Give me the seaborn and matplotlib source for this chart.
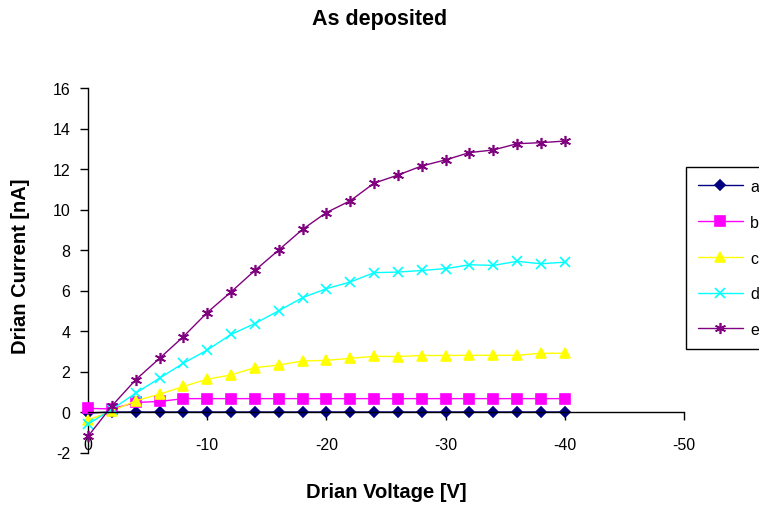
import matplotlib
matplotlib.use("Agg")
import matplotlib.pyplot as plt
import seaborn as sns
import pandas as pd

# ---- data ----
voltage = [0, -2, -4, -6, -8, -10, -12, -14, -16, -18, -20,
           -22, -24, -26, -28, -30, -32, -34, -36, -38, -40]
series_names = ["a", "b", "c", "d", "e"]
curr_a = [-0.05, 0, 0, 0, 0, 0, 0, 0, 0, 0, 0,
          0, 0, 0, 0, 0, 0, 0, 0, 0, 0]
curr_b = [0.18, 0.15, 0.47, 0.52, 0.66, 0.66, 0.66, 0.66, 0.66, 0.66, 0.66,
          0.66, 0.66, 0.66, 0.66, 0.66, 0.66, 0.66, 0.66, 0.66, 0.66]
curr_c = [-0.4, 0.05, 0.55, 0.88, 1.26, 1.62, 1.83, 2.19, 2.32, 2.52, 2.55,
          2.65, 2.75, 2.74, 2.79, 2.79, 2.8, 2.8, 2.8, 2.9, 2.9]
curr_d = [-0.6, 0.13, 0.93, 1.67, 2.41, 3.06, 3.83, 4.37, 5.0, 5.65, 6.09,
          6.42, 6.88, 6.91, 6.99, 7.08, 7.27, 7.24, 7.44, 7.32, 7.40]
curr_e = [-1.2, 0.3, 1.59, 2.65, 3.72, 4.91, 5.93, 6.99, 8.0, 9.02, 9.85,
          10.43, 11.3, 11.7, 12.15, 12.45, 12.81, 12.94, 13.25, 13.3, 13.38]
x_ticks = [0, -10, -20, -30, -40, -50]
y_ticks = [-2, 0, 2, 4, 6, 8, 10, 12, 14, 16]

title = "As deposited"
x_label = "Drian Voltage [V]"
y_label = "Drian Current [nA]"

colors = ["#000080", "#FF00FF", "#FFFF00", "#00FFFF", "#800080"]
markers = ["D", "s", "^", "x", (6, 2, 0)]
msizes = [5.5, 6.5, 7.5, 7, 8]

sns.set_style("white")
plt.rcParams["font.family"] = ["Liberation Sans", "DejaVu Sans"]
plt.rcParams["axes.unicode_minus"] = False
plt.rcParams["text.color"] = "black"
plt.rcParams["axes.labelcolor"] = "black"
plt.rcParams["xtick.color"] = "black"
plt.rcParams["ytick.color"] = "black"

fig = plt.figure(figsize=(7.59, 5.10), dpi=100)
ax = fig.add_axes([88 / 759, 1 - 453.5 / 510, 596 / 759, 364.5 / 510])

all_vals = [curr_a, curr_b, curr_c, curr_d, curr_e]
for name, vals, c, m, ms in zip(series_names, all_vals, colors, markers, msizes):
    df = pd.DataFrame({"V": voltage, "I": vals})
    sns.lineplot(data=df, x="V", y="I", ax=ax, color=c, marker=m,
                 markersize=ms, markeredgecolor=c, markerfacecolor=c,
                 markeredgewidth=1.2, linewidth=1.0, label=name,
                 clip_on=False)

ax.set_xlim(0, -50)
ax.set_ylim(-2, 16)
ax.set_xticks(x_ticks)
ax.set_yticks(y_ticks)
ax.set_xticklabels([str(v) for v in x_ticks])
ax.set_yticklabels([str(v) for v in y_ticks])

for s in ["top", "right"]:
    ax.spines[s].set_visible(False)
ax.spines["bottom"].set_position(("data", 0))
for s in ["left", "bottom"]:
    ax.spines[s].set_color("black")
    ax.spines[s].set_linewidth(1.0)
ax.spines["left"].set_zorder(0)

ax.tick_params(axis="y", direction="out", length=5.8, width=1.0,
               color="black", labelcolor="black", labelsize=11.5, pad=7, left=True)
ax.tick_params(axis="x", direction="out", length=5.8, width=1.0,
               color="black", labelcolor="black", labelsize=11.5, pad=12, bottom=True)

ax.set_xlabel(x_label, fontsize=14.5, fontweight="bold", color="black")
ax.set_ylabel(y_label, fontsize=14.5, fontweight="bold", color="black")
ax.xaxis.label.set_va("center")
ax.yaxis.label.set_va("center")
ax.xaxis.set_label_coords(0.5, (453.5 - 493) / 364.5)
ax.yaxis.set_label_coords((20 - 88) / 596, (453.5 - 266.5) / 364.5)

fig.text(0.5, 1 - 20 / 510, title, ha="center", va="center",
         fontsize=15.5, fontweight="bold", color="black")

leg = ax.legend(loc="upper left", bbox_to_anchor=(686 / 759, 1 - 168 / 510),
                bbox_transform=fig.transFigure, borderaxespad=0,
                fontsize=11.5, handlelength=2.8, labelspacing=1.3,
                borderpad=0.75, handletextpad=0.45, frameon=True,
                fancybox=False, shadow=False, numpoints=1)
leg.get_frame().set_edgecolor("black")
leg.get_frame().set_linewidth(1.0)
leg.get_frame().set_alpha(1)
for t in leg.get_texts():
    t.set_color("black")

fig.savefig("out.png", dpi=100)
